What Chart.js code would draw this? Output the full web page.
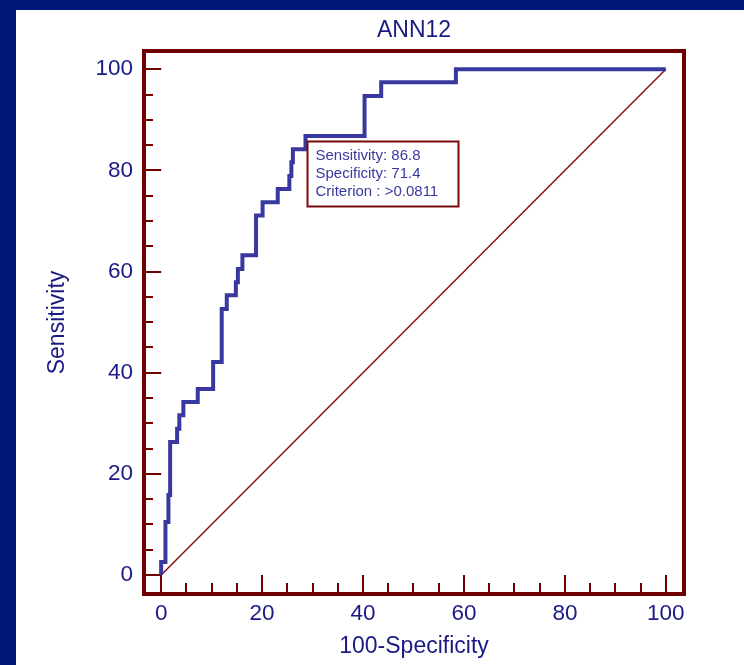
<!DOCTYPE html>
<html>
<head>
<meta charset="utf-8">
<script src="https://cdn.jsdelivr.net/npm/chart.js@4.4.1/dist/chart.umd.min.js"></script>
<style>
  html, body { margin: 0; padding: 0; background: #ffffff; }
  #wrap { width: 744px; height: 665px; position: relative; }
  canvas { display: block; }
</style>
</head>
<body>
<div id="wrap"><canvas id="c" width="744" height="665"></canvas></div>
<script>
// ---- data ----
const chartTitle = 'ANN12';
const xAxisTitle = '100-Specificity';
const yAxisTitle = 'Sensitivity';
// ROC curve: at each 100-Specificity value the sensitivity rises to the listed level
const rocFpr = [0, 0, 0.85, 1.44, 1.78, 3.16, 3.6, 4.4, 7.25, 10.3, 12.0, 13.0, 14.8, 15.2, 16.1, 18.8, 20.1, 23.1, 25.4, 25.8, 26.1, 28.6, 40.3, 43.6, 58.4, 100];
const rocTpr = [0, 2.6, 10.5, 15.8, 26.3, 28.9, 31.6, 34.2, 36.8, 42.1, 52.6, 55.3, 57.9, 60.5, 63.2, 71.1, 73.7, 76.3, 78.9, 81.6, 84.2, 86.8, 94.7, 97.4, 100, 100];
// reference diagonal
const diagX = [0, 100];
const diagY = [0, 100];
// tick labels
const xTicks = [0, 20, 40, 60, 80, 100];
const yTicks = [0, 20, 40, 60, 80, 100];
const minorStep = 5;
// annotation box
const noteAnchor = { x: 28.9, y: 85.8 };
const noteLines = ['Sensitivity: 86.8', 'Specificity: 71.4', 'Criterion : >0.0811'];

// ---- styles ----
const NAVY = '#00187a';
const TEXT = '#1a1a84';
const MAROON = '#700000';
const CURVE = '#3838a0';
const FONT = "'Liberation Sans', Arial, sans-serif";

const rocPoints = rocFpr.map((x, i) => ({ x, y: rocTpr[i] }));
const diagPoints = diagX.map((x, i) => ({ x, y: diagY[i] }));

const decor = {
  id: 'decor',
  beforeDraw(chart) {
    const ctx = chart.ctx;
    ctx.save();
    ctx.fillStyle = '#ffffff';
    ctx.fillRect(0, 0, chart.width, chart.height);
    ctx.fillStyle = NAVY;
    ctx.fillRect(0, 0, chart.width, 10);
    ctx.fillRect(0, 0, 16, chart.height);
    ctx.restore();
  },
  beforeDatasetsDraw(chart) {
    const ctx = chart.ctx;
    const xs = chart.scales.x, ys = chart.scales.y;
    const a = chart.chartArea;
    ctx.save();
    ctx.strokeStyle = MAROON;
    ctx.lineWidth = 2;
    ctx.lineCap = 'butt';
    // x ticks (pointing up from bottom frame)
    const x0py = ys.getPixelForValue(0);
    for (let v = 0; v <= 100; v += minorStep) {
      const px = Math.round(xs.getPixelForValue(v));
      const major = xTicks.includes(v);
      ctx.beginPath();
      ctx.moveTo(px, a.bottom);
      ctx.lineTo(px, major ? x0py : a.bottom - 11);
      ctx.stroke();
    }
    const y0px = xs.getPixelForValue(0);
    for (let v = 0; v <= 100; v += minorStep) {
      const py = Math.round(ys.getPixelForValue(v));
      const major = yTicks.includes(v);
      ctx.beginPath();
      ctx.moveTo(a.left, py);
      ctx.lineTo(major ? y0px : a.left + 9, py);
      ctx.stroke();
    }
    ctx.restore();
  },
  afterDraw(chart) {
    const ctx = chart.ctx;
    const a = chart.chartArea;
    const xs = chart.scales.x, ys = chart.scales.y;
    ctx.save();
    // frame
    ctx.strokeStyle = MAROON;
    ctx.lineWidth = 4;
    ctx.strokeRect(a.left, a.top, a.right - a.left, a.bottom - a.top);
    // title centered over plot area
    ctx.fillStyle = TEXT;
    ctx.font = '23px ' + FONT;
    ctx.textAlign = 'center';
    ctx.textBaseline = 'middle';
    ctx.fillText(chartTitle, (a.left + a.right) / 2, 31);
    // annotation box
    const bx = Math.round(xs.getPixelForValue(noteAnchor.x)) + 0.5;
    const by = Math.round(ys.getPixelForValue(noteAnchor.y)) + 0.5;
    const bw = 151, bh = 65;
    ctx.fillStyle = '#ffffff';
    ctx.fillRect(bx, by, bw, bh);
    ctx.strokeStyle = '#7a0a0a';
    ctx.lineWidth = 2;
    ctx.strokeRect(bx, by, bw, bh);
    ctx.fillStyle = CURVE;
    ctx.font = '15px ' + FONT;
    ctx.textAlign = 'left';
    ctx.textBaseline = 'middle';
    noteLines.forEach((t, i) => ctx.fillText(t, bx + 8, by + 14 + i * 18));
    ctx.restore();
  }
};

new Chart(document.getElementById('c'), {
  type: 'scatter',
  data: {
    datasets: [
      {
        data: rocPoints,
        showLine: true,
        stepped: 'before',
        borderColor: CURVE,
        borderWidth: 4,
        borderJoinStyle: 'miter',
        borderCapStyle: 'butt',
        pointRadius: 0,
        fill: false
      },
      {
        data: diagPoints,
        showLine: true,
        borderColor: '#8b1010',
        borderWidth: 1.5,
        pointRadius: 0,
        fill: false
      }
    ]
  },
  plugins: [decor],
  options: {
    responsive: false,
    devicePixelRatio: 1,
    animation: false,
    layout: { padding: { top: 51, right: 60, bottom: 0, left: 0 } },
    plugins: {
      legend: { display: false },
      tooltip: { enabled: false },
      title: { display: false }
    },
    scales: {
      x: {
        type: 'linear',
        min: -3.4,
        max: 103.6,
        afterBuildTicks: s => { s.ticks = xTicks.map(v => ({ value: v })); },
        afterFit: s => { s.height = 71; },
        grid: { display: false, drawTicks: false },
        border: { display: false },
        ticks: {
          color: TEXT, padding: 6, maxRotation: 0, autoSkip: false,
          font: { family: FONT, size: 22.5 },
          callback: v => String(v)
        },
        title: {
          display: true, text: xAxisTitle, color: TEXT,
          font: { family: FONT, size: 23 },
          padding: { top: 0, bottom: 4.2 }
        }
      },
      y: {
        type: 'linear',
        min: -3.75,
        max: 103.6,
        afterBuildTicks: s => { s.ticks = yTicks.map(v => ({ value: v })); },
        afterFit: s => { s.width = 144; },
        grid: { display: false, drawTicks: false },
        border: { display: false },
        ticks: {
          color: TEXT, padding: 11, autoSkip: false,
          font: { family: FONT, size: 22.5 },
          callback: v => String(v)
        },
        title: {
          display: true, text: yAxisTitle, color: TEXT,
          font: { family: FONT, size: 23 },
          padding: { top: 44, bottom: 0 }
        }
      }
    }
  }
});
</script>
</body>
</html>
